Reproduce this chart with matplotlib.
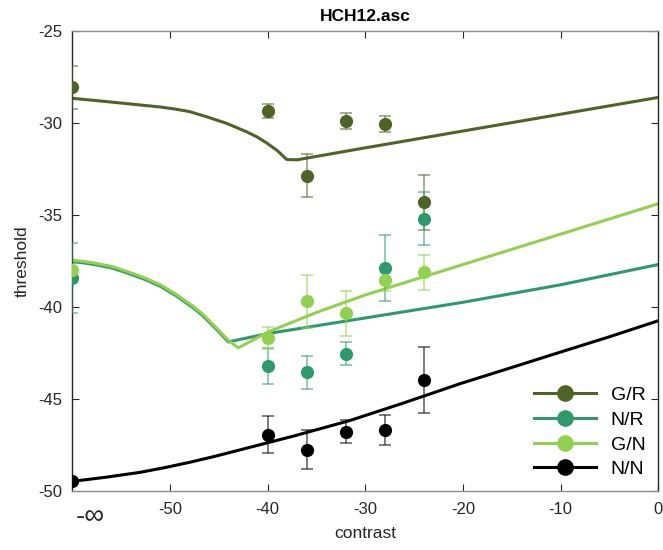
import matplotlib
matplotlib.use("Agg")
import matplotlib.pyplot as plt
from matplotlib.lines import Line2D

plt.rcParams['font.family'] = ['Liberation Sans', 'DejaVu Sans']
plt.rcParams['axes.unicode_minus'] = False

# Measured thresholds per condition (x = contrast, -60 stands for -inf)
contrast = [-60, -40, -36, -32, -28, -24]
labels = ['G/R', 'N/R', 'G/N', 'N/N']
colors = ['#4e6326', '#2e9a6c', '#92d04f', '#000000']

gr_thr = [-28.09, -29.37, -32.87, -29.92, -30.07, -34.32]
gr_err = [1.18, 0.39, 1.17, 0.45, 0.43, 1.49]
nr_thr = [-38.43, -43.20, -43.56, -42.55, -37.87, -35.21]
nr_err = [1.90, 0.98, 0.89, 0.62, 1.79, 1.42]
gn_thr = [-38.00, -41.70, -39.70, -40.34, -38.56, -38.13]
gn_err = [0.0, 0.60, 1.45, 1.22, 0.60, 0.96]
nn_thr = [-49.47, -46.93, -47.74, -46.77, -46.68, -43.96]
nn_err = [0.0, 1.00, 1.04, 0.63, 0.83, 1.81]

# Model fit curves
gr_fit_x = [-60, -57, -54, -51, -49.5, -48, -46.24, -44.19, -42.14, -41.1, -40.1, -39.0,
            -38.05, -37.02, -30.58, 0]
gr_fit_y = [-28.68, -28.83, -28.99, -29.15, -29.26, -29.40, -29.68, -30.04, -30.50, -30.77,
            -31.10, -31.52, -32.00, -32.02, -31.42, -28.63]
nr_fit_x = [-60, -59, -57.85, -56, -54.43, -52.7, -51.02, -49.3, -47.61, -46.7, -45.90,
            -45.0, -44.03, -40, -30, -20, -10, 0]
nr_fit_y = [-37.55, -37.60, -37.69, -37.88, -38.15, -38.48, -38.87, -39.42, -40.05, -40.45,
            -40.87, -41.35, -41.90, -41.45, -40.60, -39.75, -38.80, -37.70]
gn_fit_x = [-60, -59, -57.85, -56, -54.43, -52.7, -51.02, -49.3, -47.61, -46.7, -45.90,
            -45.0, -44.03, -43.0, -41.5, -40, -35, -30, -20, -10, 0]
gn_fit_y = [-37.47, -37.52, -37.61, -37.80, -38.07, -38.40, -38.79, -39.34, -39.97, -40.37,
            -40.79, -41.27, -41.82, -42.22, -41.80, -41.37, -40.30, -39.35, -37.70, -36.05,
            -34.40]
nn_fit_x = [-60, -56.5, -53.07, -50.5, -47.95, -45.4, -42.83, -37.2, -31.6, -26, -20.31,
            -15.2, -10.07, -5, 0]
nn_fit_y = [-49.47, -49.24, -48.98, -48.72, -48.43, -48.11, -47.76, -46.99, -46.17, -45.20,
            -44.17, -43.32, -42.46, -41.62, -40.75]

xticks = [-50, -40, -30, -20, -10, 0]
yticks = [-50, -45, -40, -35, -30, -25]

fig = plt.figure(figsize=(6.63, 5.5), dpi=100)
ax = fig.add_axes([0.109, 0.107, 0.884, 0.8375])

fits = [(gr_fit_x, gr_fit_y), (nr_fit_x, nr_fit_y), (gn_fit_x, gn_fit_y), (nn_fit_x, nn_fit_y)]
data = [(gr_thr, gr_err), (nr_thr, nr_err), (gn_thr, gn_err), (nn_thr, nn_err)]

for (fx, fy), c in zip(fits, colors):
    ax.plot(fx, fy, color=c, lw=2.2, zorder=2, solid_joinstyle='round')

for (thr, err), c in zip(data, colors):
    ax.errorbar(contrast, thr, yerr=err, fmt='none', ecolor=c, elinewidth=1.2,
                capsize=4, capthick=1.2, alpha=0.6, zorder=3)
    ax.plot(contrast, thr, 'o', color=c, ms=9.5, mec='none', zorder=4)

ax.set_xlim(-60, 0)
ax.set_ylim(-50, -25)
ax.set_xticks(xticks)
ax.set_yticks(yticks)
ax.tick_params(direction='in', length=5, width=0.8, labelsize=12, colors='#262626',
               top=True, right=True)
ax.tick_params(axis='x', pad=8)
ax.tick_params(axis='y', pad=7)
for side in ['left', 'right']:
    ax.spines[side].set_color('#262626')
for side in ['top', 'bottom']:
    ax.spines[side].set_color('#8c8c8c')
for s in ax.spines.values():
    s.set_linewidth(1.0)

ax.text(-58.2, -51.4, '-\u221e', ha='center', va='center', fontsize=20, color='#262626',
        family=['Liberation Sans', 'DejaVu Sans'])

ax.set_xlabel('contrast', fontsize=12.5, color='#262626', labelpad=6)
ax.set_ylabel('threshold', fontsize=12.5, color='#262626', labelpad=6)
ax.set_title('HCH12.asc', fontsize=12.5, fontweight='bold', color='#000000', pad=7)

handles = [Line2D([], [], color=c, lw=2.2, marker='o', ms=12, mec='none') for c in colors]
ax.legend(handles, labels, loc='lower right', frameon=False, fontsize=14,
          handlelength=3.2, handletextpad=0.75, labelspacing=0.36,
          borderaxespad=0.27)

fig.savefig('out.png', dpi=100)
